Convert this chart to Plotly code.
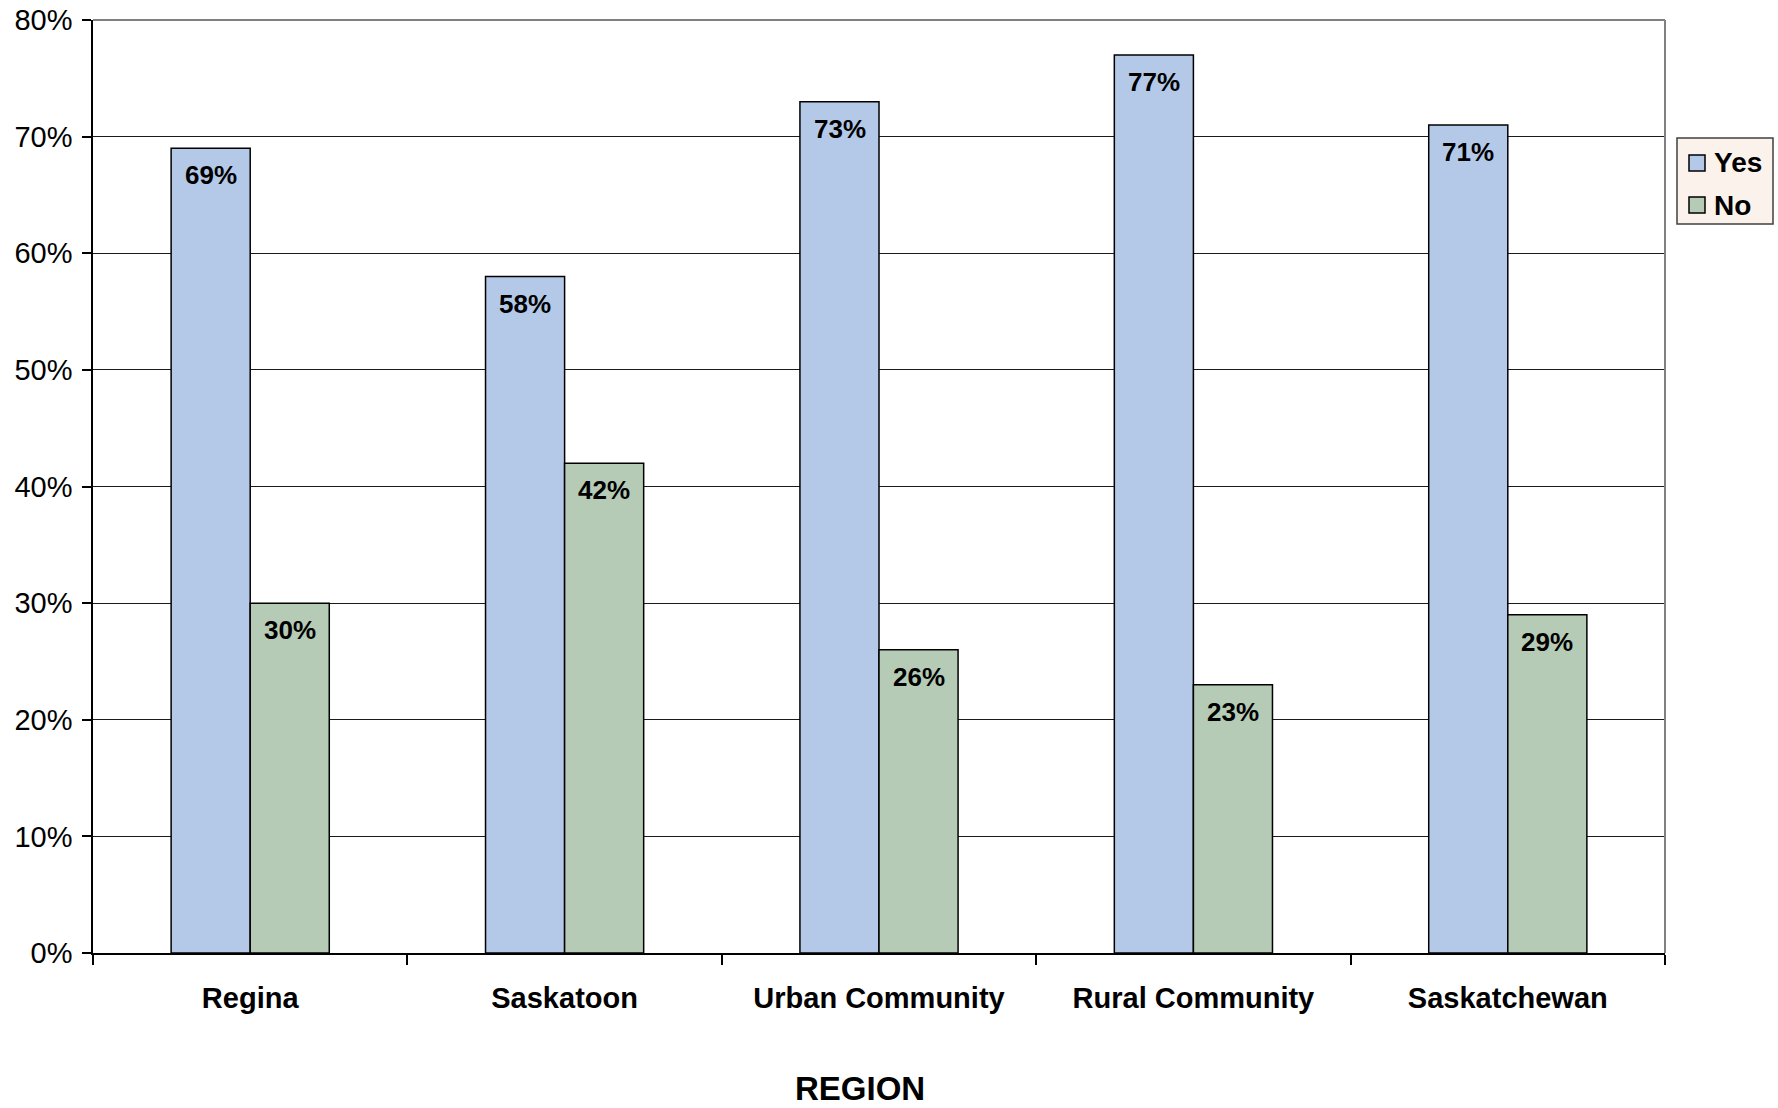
import plotly.graph_objects as go

regions = ["Regina", "Saskatoon", "Urban Community", "Rural Community", "Saskatchewan"]
yes_pct = [69, 58, 73, 77, 71]
no_pct = [30, 42, 26, 23, 29]
series_names = ["Yes", "No"]

YES_COLOR = "#B4C9E8"
NO_COLOR = "#B5CBB6"
FONT = "Liberation Sans, Arial, sans-serif"

W, H = 1778, 1108
ML, MR, MT, MB = 93, 113, 20, 155
PW, PH = W - ML - MR, H - MT - MB


def px_x(px):
    """pixel column -> paper x"""
    return (px - ML) / PW


def px_y(py):
    """pixel row -> paper y"""
    return (H - MB - py) / PH


fig = go.Figure()
fig.add_trace(go.Bar(name=series_names[0], x=regions, y=yes_pct,
                     marker=dict(color=YES_COLOR, line=dict(color="#000000", width=1.5))))
fig.add_trace(go.Bar(name=series_names[1], x=regions, y=no_pct,
                     marker=dict(color=NO_COLOR, line=dict(color="#000000", width=1.5))))

# value labels just inside the top of each bar
BAR_PX = 79
for series, shift in ((yes_pct, -BAR_PX / 2), (no_pct, BAR_PX / 2)):
    for r, v in zip(regions, series):
        fig.add_annotation(x=r, y=v, text=f"<b>{v}%</b>", showarrow=False,
                           xref="x", yref="y", xshift=shift, yanchor="top", yshift=-10,
                           font=dict(family=FONT, size=26, color="#000000"))

# axis title
fig.add_annotation(text="<b>REGION</b>", xref="paper", yref="paper", x=0.488, y=-0.145,
                   showarrow=False, yanchor="middle", font=dict(family=FONT, size=33, color="#000000"))

# grey frame on top and right of the plot area
fig.add_shape(type="line", xref="paper", yref="paper", x0=0, x1=1, y0=1, y1=1,
              line=dict(color="#808080", width=2), layer="above")
fig.add_shape(type="line", xref="paper", yref="paper", x0=1, x1=1, y0=0, y1=1,
              line=dict(color="#808080", width=2), layer="above")

# legend box drawn by hand to the right of the plot
fig.add_shape(type="rect", xref="paper", yref="paper",
              x0=px_x(1677), x1=px_x(1773), y0=px_y(224), y1=px_y(138),
              fillcolor="#FBF2EC", line=dict(color="#404040", width=1.5), layer="above")
for name, color, cy in zip(series_names, [YES_COLOR, NO_COLOR], [163, 205]):
    fig.add_shape(type="rect", xref="paper", yref="paper",
                  x0=px_x(1689), x1=px_x(1705), y0=px_y(cy + 8), y1=px_y(cy - 8),
                  fillcolor=color, line=dict(color="#000000", width=1.5), layer="above")
    fig.add_annotation(text=f"<b>{name}</b>", xref="paper", yref="paper",
                       x=px_x(1712), y=px_y(cy), xanchor="left", yanchor="middle",
                       showarrow=False, font=dict(family=FONT, size=28, color="#000000"))

fig.update_layout(
    width=W, height=H,
    margin=dict(l=ML, r=MR, t=MT, b=MB),
    paper_bgcolor="#FFFFFF", plot_bgcolor="#FFFFFF",
    barmode="group", bargap=0.497, bargroupgap=0,
    font=dict(family=FONT, color="#000000"),
    showlegend=False,
    xaxis=dict(
        type="category", showgrid=False, showline=True, linecolor="#000000", linewidth=1.5,
        ticks="outside", tickson="boundaries", ticklen=10, tickcolor="#000000", tickwidth=1.5,
        tickfont=dict(family=FONT, size=29, color="#000000"),
        tickvals=regions, ticktext=[f"<b>{r}</b>" for r in regions],
        ticklabelstandoff=18, automargin=False,
    ),
    yaxis=dict(
        range=[0, 80], dtick=10, ticksuffix="%",
        showgrid=True, gridcolor="#1a1a1a", gridwidth=1,
        showline=True, linecolor="#000000", linewidth=1.5,
        ticks="outside", ticklen=9, tickcolor="#000000", tickwidth=1.5,
        tickfont=dict(family=FONT, size=29, color="#000000"),
        zeroline=False, ticklabelstandoff=4, automargin=False,
    ),
)

fig.write_html("out.html")
